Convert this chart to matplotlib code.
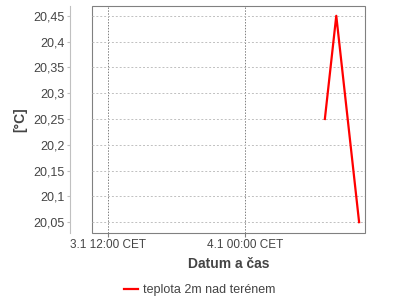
import datetime as dt
import matplotlib
matplotlib.use("Agg")
import matplotlib.pyplot as plt
import matplotlib.dates as mdates
from matplotlib.ticker import FixedLocator, FuncFormatter

plt.rcParams["font.family"] = ["Liberation Sans", "DejaVu Sans"]

# data
times = [dt.datetime(2013, 1, 4, 7, 0), dt.datetime(2013, 1, 4, 8, 0), dt.datetime(2013, 1, 4, 10, 0)]
temps = [20.25, 20.45, 20.05]
series_label = "teplota 2m nad terénem"
y_ticks = [20.05, 20.1, 20.15, 20.2, 20.25, 20.3, 20.35, 20.4, 20.45]
x_ticks = [dt.datetime(2013, 1, 3, 12, 0), dt.datetime(2013, 1, 4, 0, 0)]
x_range = [dt.datetime(2013, 1, 3, 10, 36), dt.datetime(2013, 1, 4, 10, 31)]
y_range = [20.029, 20.469]

fig = plt.figure(figsize=(4, 3), dpi=100)
ax = fig.add_axes([92 / 400, 1 - 233 / 300, 273 / 400, 227 / 300])

ax.plot(times, temps, color="#ff0000", linewidth=1.6, label=series_label)

ax.set_xlim(x_range)
ax.set_ylim(y_range)

ax.yaxis.set_major_locator(FixedLocator(y_ticks))
ax.yaxis.set_major_formatter(FuncFormatter(lambda v, p: f"{v:.2f}".rstrip("0").replace(".", ",")))
ax.xaxis.set_major_locator(FixedLocator([mdates.date2num(t) for t in x_ticks]))
ax.xaxis.set_major_formatter(FuncFormatter(
    lambda v, p: f"{mdates.num2date(v).day}.1 {mdates.num2date(v):%H:%M} CET"))

# frame and offset axis (22 px to the left of the plot area)
for s in ["top", "right", "bottom"]:
    ax.spines[s].set_visible(False)
ax.patch.set_edgecolor("#808080")
ax.patch.set_linewidth(0.8)
ax.spines["left"].set_position(("outward", 22 * 72 / 100))
ax.spines["left"].set_color("#c0c0c0")

ax.tick_params(axis="y", length=2, color="#c0c0c0", labelsize=9, labelcolor="#444444", pad=2)
ax.tick_params(axis="x", length=3, color="#808080", labelsize=8.5, labelcolor="#444444", pad=1)

ax.grid(axis="y", color="#c0c0c0", linestyle=(0, (2, 2)), linewidth=0.7)
ax.grid(axis="x", color="#808080", linestyle=(0, (1.5, 1.5)), linewidth=0.7)

ax.set_ylabel("[°C]", fontsize=10, fontweight="bold", color="#444444", labelpad=4)
ax.set_xlabel("Datum a čas", fontsize=10, fontweight="bold", color="#444444", labelpad=5)

fig.legend(loc="lower center", bbox_to_anchor=(0.5, -0.025), frameon=False,
           fontsize=9, handlelength=1.1, handletextpad=0.4, labelcolor="#444444")

fig.savefig("out.png", dpi=100)
